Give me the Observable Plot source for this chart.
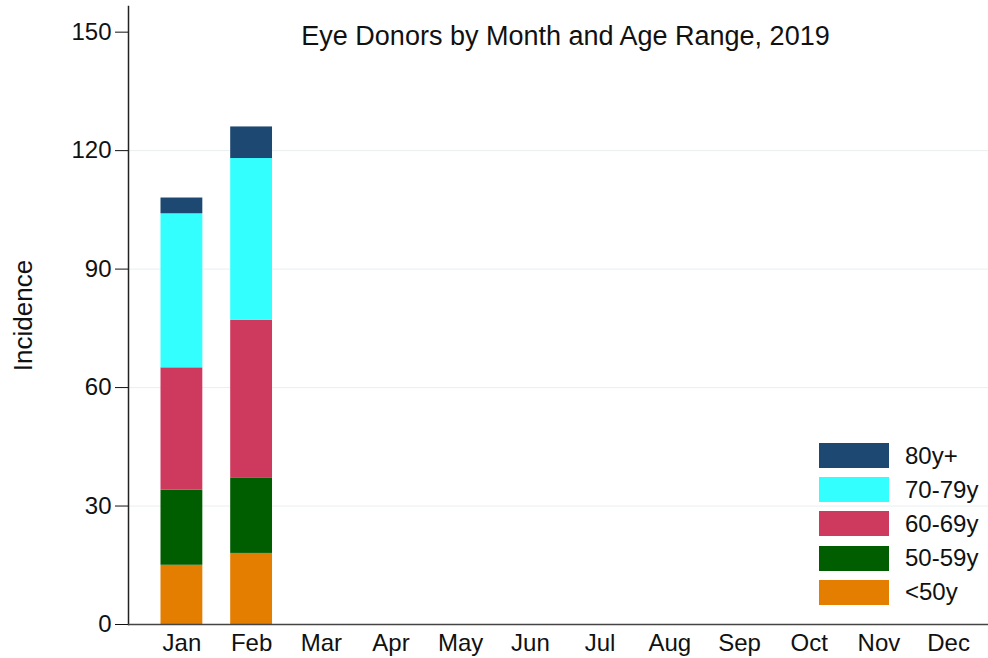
<!DOCTYPE html>
<html>
<head>
<meta charset="utf-8">
<script src="https://cdn.jsdelivr.net/npm/d3@7"></script>
<script src="https://cdn.jsdelivr.net/npm/@observablehq/plot@0.6"></script>
<style>
  html, body { margin: 0; padding: 0; background: #fff; }
  #wrap { position: relative; width: 988px; height: 658px; font-family: "Liberation Sans", Arial, sans-serif; }
  #legend { position: absolute; left: 819px; top: 443px; }
  .row { display: flex; align-items: center; height: 25px; margin-bottom: 9.2px; }
  .sw { width: 70px; height: 25px; }
  .lab { margin-left: 16px; font-size: 24px; color: #111; }
</style>
</head>
<body>
<div id="wrap"></div>
<script>
const months = ["Jan","Feb","Mar","Apr","May","Jun","Jul","Aug","Sep","Oct","Nov","Dec"];
const ageGroups = ["<50y","50-59y","60-69y","70-79y","80y+"];
const colors = ["#e37e00","#005d00","#ce3a5e","#33ffff","#1c4871"];
// counts per age group, Jan and Feb only
const under50 = [15, 18];
const age50_59 = [19, 19];
const age60_69 = [31, 40];
const age70_79 = [39, 41];
const age80plus = [4, 8];
const yTicks = [0, 30, 60, 90, 120, 150];
const gridTicks = [30, 60, 90, 120];
const title = "Eye Donors by Month and Age Range, 2019";

const series = [under50, age50_59, age60_69, age70_79, age80plus];
const data = [];
series.forEach((vals, gi) => vals.forEach((v, mi) => data.push({month: months[mi], group: ageGroups[gi], value: v})));

const chart = Plot.plot({
  width: 988,
  height: 658,
  marginLeft: 128,
  marginRight: 0,
  marginTop: 6,
  marginBottom: 34,
  style: {fontFamily: "Liberation Sans, Arial, sans-serif", fontSize: "24px", color: "#111", background: "#fff"},
  x: {domain: months, range: [160.5, 969], round: false, paddingInner: 0.4, paddingOuter: 0, label: null},
  y: {domain: [0, 156.5], label: null},
  color: {domain: ageGroups, range: colors},
  marks: [
    Plot.ruleY(gridTicks, {stroke: "#e8efef", strokeWidth: 1}),
    Plot.barY(data, {x: "month", y: "value", fill: "group", order: ageGroups}),
    Plot.axisY({ticks: yTicks, tickSize: 13, tickPadding: 4, fontSize: 24, label: null, stroke: "#111", strokeOpacity: 1}),
    Plot.axisX({tickSize: 0, tickPadding: 9, fontSize: 24, label: null}),
    Plot.frame({anchor: "left", stroke: "#222", strokeWidth: 1.5}),
    Plot.ruleY([0], {stroke: "#444", strokeWidth: 1.5}),
    Plot.text([title], {frameAnchor: "top", dx: 7, dy: 19, fontSize: 27, fill: "#111", textAnchor: "middle", lineAnchor: "top"}),
    Plot.text(["Incidence"], {frameAnchor: "left", dx: -105, dy: 0, rotate: -90, fontSize: 26, fill: "#111", textAnchor: "middle"})
  ]
});

const wrap = document.getElementById("wrap");
wrap.appendChild(chart);

const legend = document.createElement("div");
legend.id = "legend";
for (let i = ageGroups.length - 1; i >= 0; i--) {
  const row = document.createElement("div");
  row.className = "row";
  const sw = document.createElement("div");
  sw.className = "sw";
  sw.style.background = colors[i];
  const lab = document.createElement("span");
  lab.className = "lab";
  lab.textContent = ageGroups[i];
  row.appendChild(sw);
  row.appendChild(lab);
  legend.appendChild(row);
}
wrap.appendChild(legend);
</script>
</body>
</html>
